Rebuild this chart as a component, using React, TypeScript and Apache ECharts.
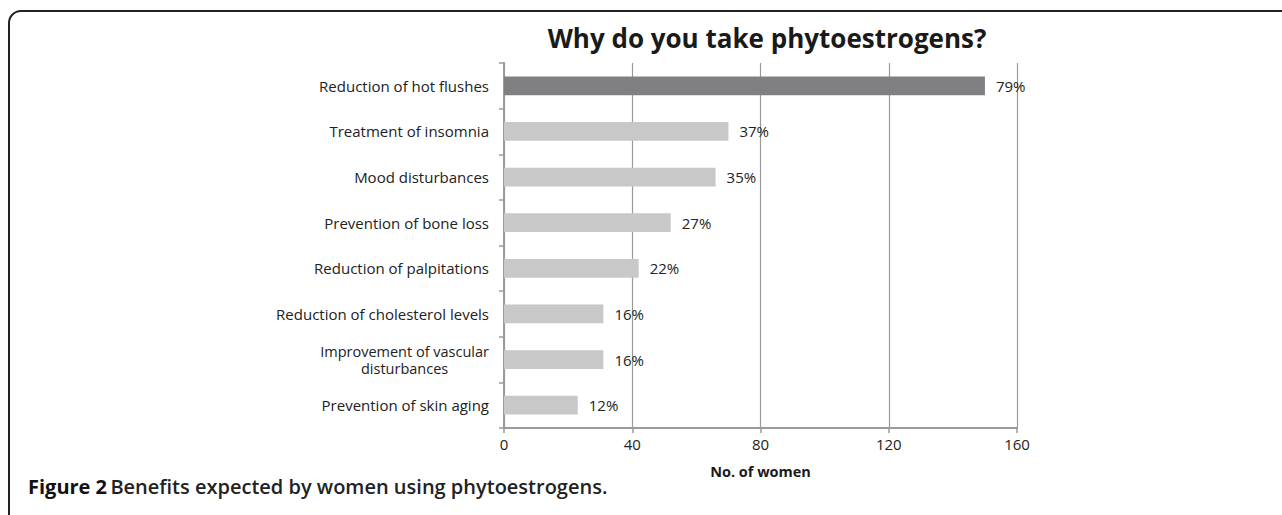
import React, { useEffect, useRef } from "react";
import * as echarts from "echarts";

const categories = [
  "Reduction of hot flushes",
  "Treatment of insomnia",
  "Mood disturbances",
  "Prevention of bone loss",
  "Reduction of palpitations",
  "Reduction of cholesterol levels",
  "Improvement of vascular\ndisturbances",
  "Prevention of skin aging",
];
const womenCounts = [150, 70, 66, 52, 42, 31, 31, 23];
const percentLabels = ["79%", "37%", "35%", "27%", "22%", "16%", "16%", "12%"];
const xTicks = [0, 40, 80, 120, 160];

const FONT = "'Open Sans', 'Noto Sans', sans-serif";

export default function App() {
  const ref = useRef<HTMLDivElement>(null);
  useEffect(() => {
    document.body.style.margin = "0";
    const chart = echarts.init(ref.current!, null, { renderer: "svg" });
    chart.setOption({
      animation: false,
      backgroundColor: "#ffffff",
      textStyle: { fontFamily: FONT },
      title: {
        text: "Why do you take phytoestrogens?",
        left: 762,
        top: 20,
        textAlign: "center",
        textStyle: { fontSize: 26, fontWeight: "bold", color: "#1a1a1a", fontFamily: FONT },
      },
      grid: { left: 504, right: 265, top: 63, bottom: 87, containLabel: false },
      xAxis: {
        type: "value",
        min: xTicks[0],
        max: xTicks[xTicks.length - 1],
        interval: 40,
        name: "No. of women",
        nameLocation: "middle",
        nameGap: 36,
        nameTextStyle: { fontSize: 14.5, fontWeight: "bold", color: "#1a1a1a", fontFamily: FONT },
        axisLine: { show: true, lineStyle: { color: "#9a9a9a", width: 2 } },
        axisTick: { show: true, length: 5, lineStyle: { color: "#9a9a9a", width: 1.5 } },
        axisLabel: { fontSize: 15, color: "#222", margin: 8, fontFamily: FONT },
        splitLine: { show: true, lineStyle: { color: "#9a9a9a", width: 1.2 } },
      },
      yAxis: {
        type: "category",
        data: categories,
        inverse: true,
        axisLine: { show: true, lineStyle: { color: "#9a9a9a", width: 2 } },
        axisTick: { show: true, length: 5, inside: false, lineStyle: { color: "#9a9a9a", width: 1.5 } },
        axisLabel: {
          fontSize: 15,
          color: "#222",
          margin: 15,
          lineHeight: 17,
          fontFamily: FONT,
          formatter: (v: string) =>
            v.includes("\n")
              ? v.split("\n").map((s) => "{c|" + s + "}").join("\n")
              : v,
          rich: { c: { align: "center", fontSize: 14.5, color: "#222", lineHeight: 17, fontFamily: FONT } },
        },
      },
      series: [
        {
          type: "bar",
          data: womenCounts.map((v, i) => ({
            value: v,
            itemStyle: { color: i === 0 ? "#808083" : "#c8c8c8" },
          })),
          barCategoryGap: "59%",
          label: {
            show: true,
            position: "right",
            distance: 11,
            fontSize: 15,
            color: "#222",
            fontFamily: FONT,
            formatter: (p: any) => percentLabels[p.dataIndex],
          },
        },
      ],
      graphic: [
        {
          type: "rect",
          shape: { x: 9, y: 11, width: 1500, height: 700, r: 12 },
          style: { fill: "none", stroke: "#222", lineWidth: 2 },
          silent: true,
        },
        {
          type: "text",
          left: 28,
          top: 476,
          style: {
            text: "{a|Figure 2} {b|Benefits expected by women using phytoestrogens.}",
            rich: {
              a: { fontSize: 20, fontWeight: "bold", fill: "#111", fontFamily: FONT },
              b: { fontSize: 20, fontWeight: 600, fill: "#222", fontFamily: FONT },
            },
          },
        },
      ],
    });
    return () => chart.dispose();
  }, []);
  return <div ref={ref} style={{ width: 1282, height: 515, position: "absolute", left: 0, top: 0 }} />;
}
